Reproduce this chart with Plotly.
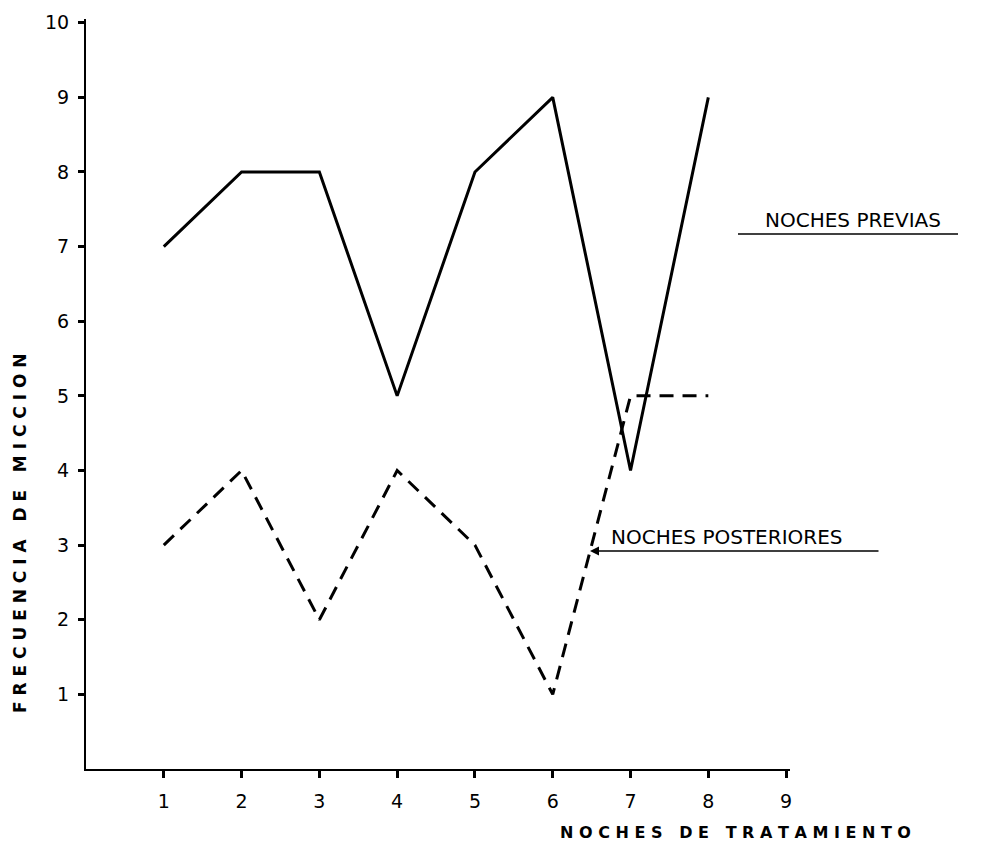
import plotly.graph_objects as go

noches = [1, 2, 3, 4, 5, 6, 7, 8]
previas = [7, 8, 8, 5, 8, 9, 4, 9]
posteriores = [3, 4, 2, 4, 3, 1, 5, 5]
x_ticks = [1, 2, 3, 4, 5, 6, 7, 8, 9]
y_ticks = [1, 2, 3, 4, 5, 6, 7, 8, 9, 10]

FONT = "DejaVu Sans"

OFF = 8  # page body margin
FW, FH = 985 - OFF, 848 - OFF
# plot-area geometry in page pixels
L, R, T, B = 86, 790, 19, 769
W, H = R - L, B - T


def px(xp):
    return (xp - L) / W


def py(yp):
    return (B - yp) / H


fig = go.Figure()
fig.add_trace(go.Scatter(x=noches, y=previas, mode="lines",
                         line=dict(color="black", width=3), name="NOCHES PREVIAS"))
fig.add_trace(go.Scatter(x=noches, y=posteriores, mode="lines",
                         line=dict(color="black", width=3, dash="14px,9px"),
                         name="NOCHES POSTERIORES"))

fig.update_layout(
    width=FW, height=FH,
    margin=dict(l=L - OFF, r=985 - R, t=T - OFF, b=848 - B),
    plot_bgcolor="white", paper_bgcolor="white",
    showlegend=False,
    xaxis=dict(range=[0, 9.05], tickvals=x_ticks, showgrid=False, zeroline=False,
               automargin=False, ticklabeloverflow="allow",
               showline=True, linecolor="black", linewidth=2,
               ticks="outside", ticklen=7, tickwidth=3, tickcolor="black",
               ticklabelstandoff=7,
               tickfont=dict(family=FONT, size=19, color="black")),
    yaxis=dict(range=[0, 10.05], tickvals=y_ticks, showgrid=False, zeroline=False,
               automargin=False, ticklabeloverflow="allow",
               showline=True, linecolor="black", linewidth=2,
               ticks="outside", ticklen=6, tickwidth=3, tickcolor="black",
               ticklabelstandoff=5,
               tickfont=dict(family=FONT, size=19, color="black")),
)

# axis titles
fig.add_annotation(xref="paper", yref="paper", x=px(735), y=py(832),
                   xanchor="center", yanchor="middle",
                   text="<b>N O C H E S   D E   T R A T A M I E N T O</b>", showarrow=False,
                   font=dict(family=FONT, size=16, color="black"))
fig.add_annotation(xref="paper", yref="paper", x=px(20), y=py(533),
                   xanchor="center", yanchor="middle",
                   text="<b>F R E C U E N C I A   D E   M I C C I O N</b>", showarrow=False,
                   textangle=-90,
                   font=dict(family=FONT, size=17, color="black"))

# series labels
fig.add_annotation(xref="paper", yref="paper", x=px(853), y=py(220),
                   xanchor="center", yanchor="middle",
                   text="NOCHES PREVIAS", showarrow=False,
                   font=dict(family=FONT, size=20, color="black"))
fig.add_shape(type="line", xref="paper", yref="paper",
              x0=px(738), x1=px(958), y0=py(234), y1=py(234),
              line=dict(color="black", width=1.5))
fig.add_annotation(xref="paper", yref="paper", x=px(727), y=py(537),
                   xanchor="center", yanchor="middle",
                   text="NOCHES POSTERIORES", showarrow=False,
                   font=dict(family=FONT, size=20, color="black"))
fig.add_annotation(xref="paper", yref="paper", x=px(590), y=py(551),
                   axref="pixel", ayref="pixel", ax=290, ay=0,
                   text="", showarrow=True, arrowhead=2, arrowsize=1.2,
                   arrowwidth=1.5, arrowcolor="black")

fig.write_html("out.html")
